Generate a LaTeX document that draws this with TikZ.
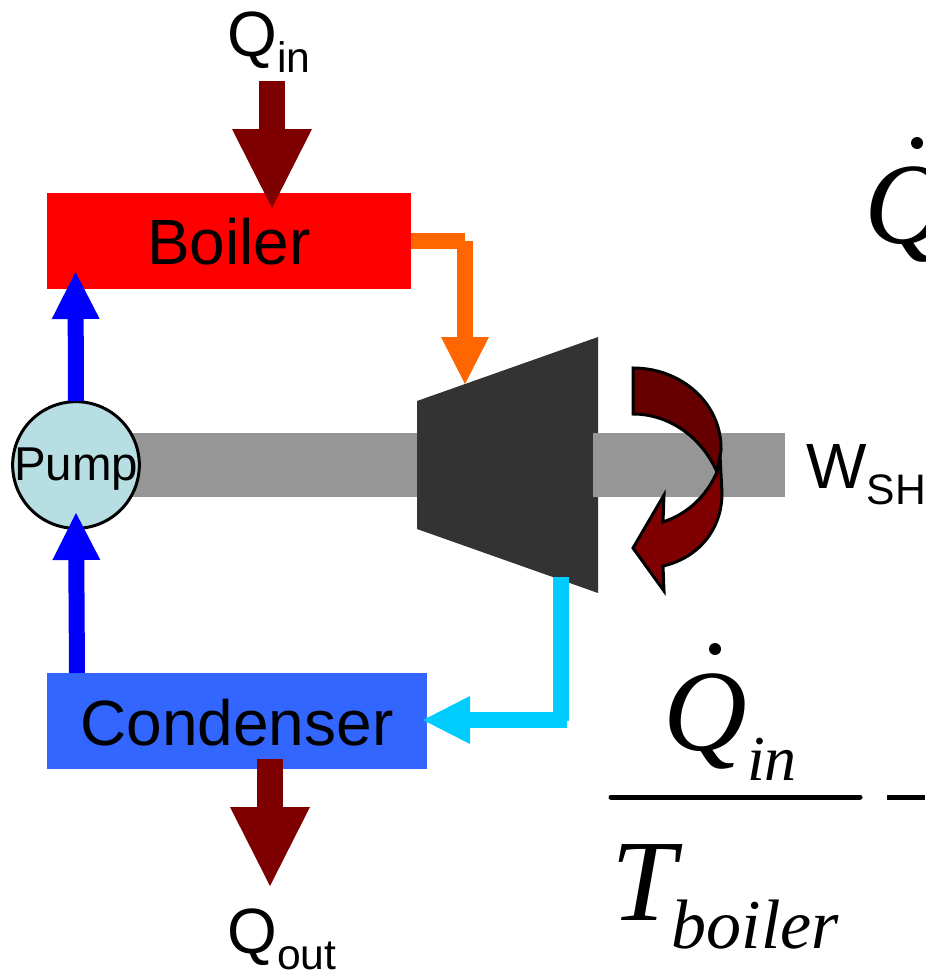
\documentclass[tikz,border=0pt]{standalone}
\usepackage{xcolor}
\usepackage{fontspec}
\setmainfont{Liberation Sans}
\newfontfamily\formulafont{Liberation Serif}
\usetikzlibrary{arrows.meta,positioning}

\definecolor{boilerred}{HTML}{FF0000}
\definecolor{condblue}{HTML}{3366FF}
\definecolor{pumpfill}{HTML}{B7DEE3}
\definecolor{shaftgray}{HTML}{969696}
\definecolor{turbinegray}{HTML}{333333}
\definecolor{heatred}{HTML}{7F0000}
\definecolor{spindark}{HTML}{660000}
\definecolor{steamorange}{HTML}{FF6600}
\definecolor{watercyan}{HTML}{00CCFF}

\newcommand{\biglabel}{\fontsize{48}{50}\selectfont}
\newcommand{\sublabel}[2]{\biglabel #1\raisebox{-12pt}{\fontsize{32}{34}\selectfont #2}}

\begin{document}
\begin{tikzpicture}[
    x=0.75pt, y=-0.75pt,
    unit/.style={rectangle, inner sep=0pt, minimum height=72pt, font=\biglabel},
    label/.style={inner sep=0pt, anchor=base west},
    formula/.style={inner sep=0pt, anchor=base west, font=\formulafont\itshape\fontsize{87}{90}\selectfont},
    shaft/.style={fill=shaftgray},
    pipe/.style={line width=12pt, -{Triangle[length=35.25pt,width=36pt,line width=0pt]}},
    stub/.style={line width=12pt},
    heat/.style={heatred, line width=19.5pt, -{Triangle[length=59.25pt,width=60pt,line width=0pt]}},
    spin/.style={draw=black, line width=2.25pt},
    rule/.style={line width=3.75pt}
]
\useasboundingbox (0,0) rectangle (925,971);

% shafts and machines
\fill[shaft] (130,433) rectangle (420,497);
\node[unit, fill=boilerred, minimum width=273pt] (boiler) at (229,241) {\raisebox{-17.25pt}[0pt][0pt]{Boiler}};
\node[unit, fill=condblue, minimum width=285pt, below=287.6pt of boiler.south west, anchor=north west] (condenser) {\raisebox{-18pt}[0pt][0pt]{Condenser}};
\node[circle, draw=black, line width=2.25pt, fill=pumpfill, inner sep=0pt, minimum size=95pt, font=\fontsize{35.6}{37}\selectfont] (pump) at (76,465) {\makebox[0pt]{\raisebox{-11.25pt}[0pt][0pt]{Pump}}};
\fill[turbinegray] (417,401) -- (598,337) -- (598,593) -- (417,529) -- cycle;
\fill[shaft] (593,433) rectangle (785,497);

\coordinate (qintop) at (272,81);
\coordinate (qintip) at (272,208);
\coordinate (qouttop) at (270,759);
\coordinate (qouttip) at (270,886);
\coordinate (steambend) at (465,241);
\coordinate (turbinein) at (465,384);
\coordinate (turbineout) at (561,577);
\coordinate (waterbend) at (561,721);
\coordinate (watercorner) at (567,720);
\coordinate (condin) at (423,720);
\coordinate (pumptop) at (76,401);
\coordinate (boilerin) at (75.5,272);
\coordinate (condtop) at (77,673);
\coordinate (pumpin) at (76,513);

% flows
\draw[heat] (qintop) -- (qintip);
\draw[heat] (qouttop) -- (qouttip);
\draw[stub, steamorange] (boiler.east) -- (steambend);
\draw[pipe, steamorange] (steambend) -- (turbinein);
\draw[stub, watercyan] (turbineout) -- (waterbend);
\draw[pipe, watercyan] (watercorner) -- (condin);
\draw[pipe, blue] (pumptop) -- (boilerin);
\draw[pipe, blue] (condtop) -- (pumpin);

% rotation arrow
\filldraw[spin, fill=heatred] (717,472) .. controls (706,497) and (687,514) .. (663,522) -- (664,495) -- (633,548) -- (664,591) -- (663,566)
    .. controls (698,558) and (722,530) .. (722,493) -- (720,455) -- cycle;
\filldraw[spin, fill=spindark] (633,368) .. controls (682,368) and (722,404) .. (721,450) -- (717,472)
    .. controls (702,438) and (670,414) .. (633,414) -- cycle;

% labels
\node[label] (qin) at (227,56) {\sublabel{Q}{in}};
\node[label] (qout) at (227,953) {\sublabel{Q}{out}};
\node[label] (wsh) at (806,488) {\sublabel{W}{SH}};

\node[formula] (qdotin) at (663,750) {Q\raisebox{-22.5pt}{\fontsize{48}{50}\selectfont in}};
\node[formula] (tboiler) at (611,920) {T\kern-3pt\raisebox{-21pt}{\fontsize{52.5}{54}\selectfont boiler}};
\node[formula] (qdotright) at (864,243) {Q};
\fill (715,649) circle (6);
\fill (917,143) circle (6);

\draw[rule, line cap=round] (611,797) -- (860,797);
\draw[rule] (887,797) -- (925,797);

\end{tikzpicture}
\end{document}
